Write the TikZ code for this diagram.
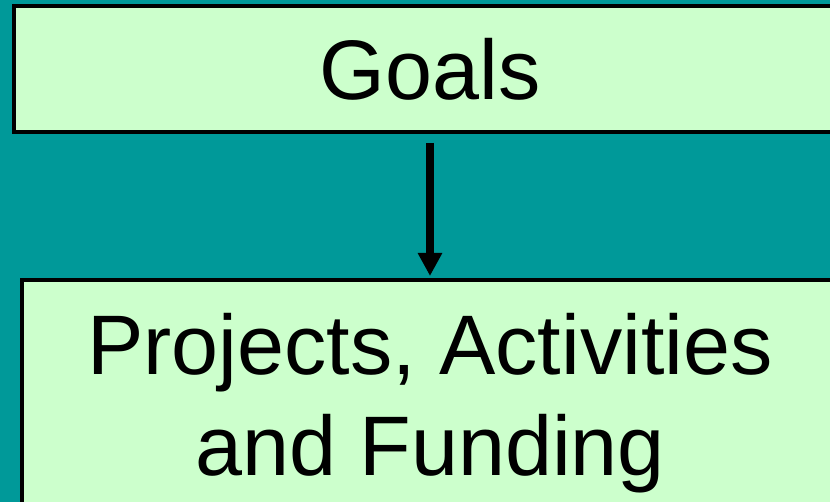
\documentclass[tikz,border=0pt]{standalone}
\usepackage{fontspec}
\setmainfont{Liberation Sans}
\usetikzlibrary{arrows.meta,positioning}

\definecolor{slidebg}{HTML}{009999}
\definecolor{boxfill}{HTML}{CCFFCC}

\begin{document}
\begin{tikzpicture}[x=1pt,y=-1pt,>={Triangle[width=23pt,length=23pt]},
            box/.style={draw=black,line width=4pt,fill=boxfill,inner sep=0pt,
                        align=center,font=\fontsize{84.5}{101}\selectfont}]
            \fill[slidebg] (0,0) rectangle (830,502);
            \useasboundingbox (0,0) rectangle (830,502);
            \node[box,minimum width=832pt,minimum height=126pt] (goals) at (430,69) {Goals};
            \node[box,minimum width=816pt,minimum height=246pt] (plan) [below=144pt of goals]
                  {Projects, Activities\\and Funding};
            \draw[->,line width=7.5pt,shorten >=2pt] ([yshift=-9pt]goals.south) -- (plan.north);
          \end{tikzpicture}
\end{document}
